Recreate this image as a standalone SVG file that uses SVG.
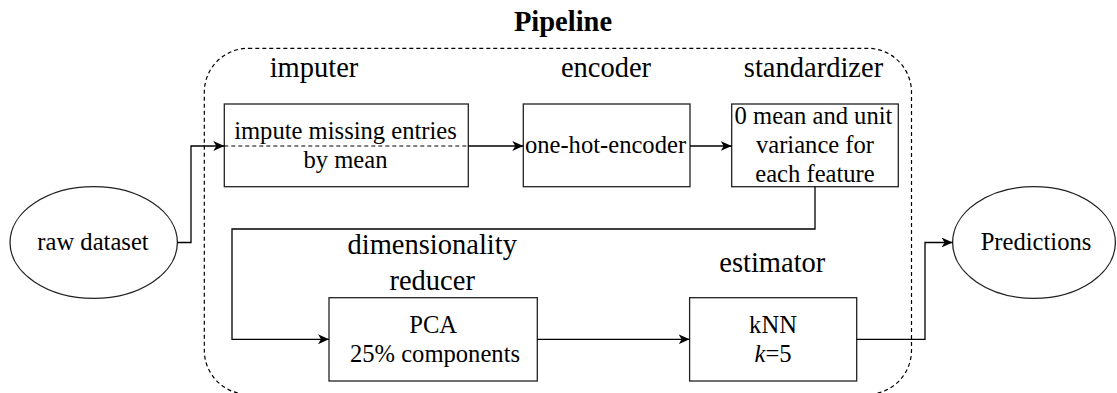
<svg xmlns="http://www.w3.org/2000/svg" width="1117" height="393" viewBox="0 0 1117 393">
<style>
text{fill:#000;text-anchor:middle}
.lbl{font-size:28.5px}
.box{font-size:24.6px}
.title{font-size:28.5px;font-weight:bold}
.shape{fill:#fff;stroke:#222;stroke-width:1.3}
.edge{fill:none;stroke:#000;stroke-width:1.3}
.dash{fill:none;stroke:#000;stroke-width:1.2;stroke-dasharray:4 3}
</style>
<defs>
<marker id="arr" markerUnits="userSpaceOnUse" markerWidth="12" markerHeight="11" refX="11" refY="5" orient="auto">
<path d="M0,0 L11,5 L0,10 L3,5 Z" fill="#000"/>
</marker>
</defs>
<rect fill="#fff" width="1117" height="393"/>
<g font-family="'Liberation Serif', 'DejaVu Serif', serif">
<g id="pipeline">
<rect class="dash" x="204.3" y="48.3" width="707.2" height="346" rx="44" ry="44"/>
<text class="title" x="563" y="30.5">Pipeline</text>
</g>
<g id="raw-dataset">
<ellipse class="shape" cx="93.7" cy="242.5" rx="83.7" ry="55.8"/>
<text class="box" x="93" y="250">raw dataset</text>
</g>
<g id="imputer">
<text class="lbl" x="314" y="77">imputer</text>
<rect class="shape" x="224.3" y="104" width="244" height="82.7"/>
<text class="box" x="345.5" y="138.5">impute missing entries</text>
<text class="box" x="345.5" y="167.5">by mean</text>
</g>
<g id="encoder">
<text class="lbl" x="606" y="77">encoder</text>
<rect class="shape" x="523.3" y="104" width="166.7" height="82.7"/>
<text class="box" x="605.5" y="153">one-hot-encoder</text>
</g>
<g id="standardizer">
<text class="lbl" x="813.5" y="77">standardizer</text>
<rect class="shape" x="731.7" y="104" width="166.6" height="82.7"/>
<text class="box" x="813.5" y="124">0 mean and unit</text>
<text class="box" x="815" y="153">variance for</text>
<text class="box" x="815" y="182">each feature</text>
</g>
<g id="dimensionality-reducer">
<text class="lbl" x="432.2" y="254">dimensionality</text>
<text class="lbl" x="432.2" y="290">reducer</text>
<rect class="shape" x="329" y="297.7" width="208.3" height="83.3"/>
<text class="box" x="433.2" y="332.5">PCA</text>
<text class="box" x="435" y="361.5">25% components</text>
</g>
<g id="estimator">
<text class="lbl" x="772.3" y="272">estimator</text>
<rect class="shape" x="689.6" y="297.7" width="167.1" height="83.3"/>
<text class="box" x="773" y="332.5">kNN</text>
<text class="box" x="773" y="361.5"><tspan font-style="italic">k</tspan>=5</text>
</g>
<g id="predictions">
<ellipse class="shape" cx="1034" cy="242.5" rx="81.4" ry="55.8"/>
<text class="box" x="1036" y="250">Predictions</text>
</g>
</g>
<g id="connectors">
<path class="dash" d="M224.3,146 H468.3"/>
<path class="edge" d="M177.4,242.5 H191 V146 H224.3" marker-end="url(#arr)"/>
<path class="edge" d="M468.3,146 H523.3" marker-end="url(#arr)"/>
<path class="edge" d="M690,146 H731.7" marker-end="url(#arr)"/>
<path class="edge" d="M815,186.7 V229 H232 V339.3 H329" marker-end="url(#arr)"/>
<path class="edge" d="M537.3,339.3 H689.6" marker-end="url(#arr)"/>
<path class="edge" d="M856.7,339.3 H925 V242.5 H952.6" marker-end="url(#arr)"/>
</g>
</svg>
